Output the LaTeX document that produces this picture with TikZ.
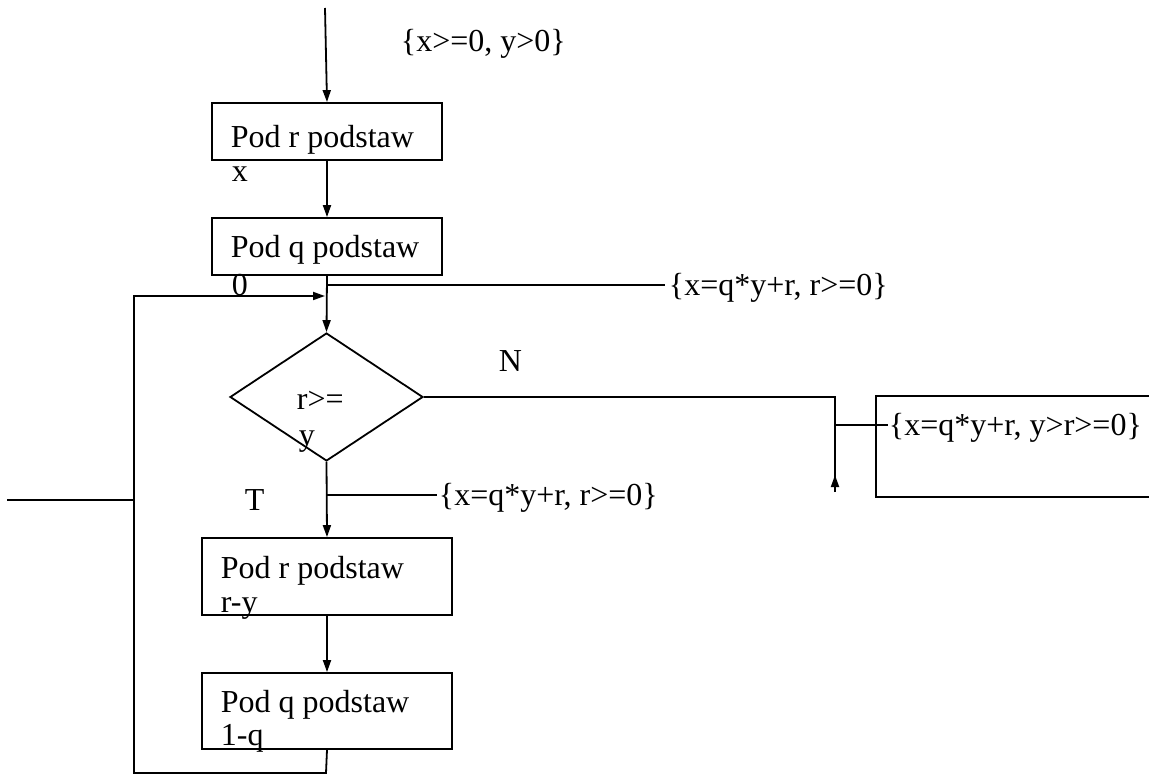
\documentclass[tikz,border=0pt]{standalone}
\usepackage{fontspec}
\setmainfont{Liberation Serif}
\usetikzlibrary{arrows.meta,shapes.geometric}
\begin{document}
\begin{tikzpicture}[x=1pt,y=-1pt,
  line width=1.8pt,
  every node/.style={font=\fontsize{32}{36}\selectfont, inner sep=0pt},
  box/.style={draw, rectangle, line width=1.8pt},
  txt/.style={anchor=base west},
  flow/.style={-{Triangle[length=12pt,width=8pt]}}]
\clip (0,0) rectangle (1149,775);

% process boxes
\node[box, minimum width=230pt, minimum height=57pt] (b1) at (327,131.5) {};
\node[box, minimum width=230pt, minimum height=57pt] (b2) at (327,246.5) {};
\node[draw, diamond, minimum width=193pt, minimum height=128pt, line width=1.8pt] (dec) at (326.5,397) {};
\node[box, minimum width=250pt, minimum height=77pt] (b3) at (327,576.5) {};
\node[box, minimum width=250pt, minimum height=76pt] (b4) at (327,711) {};
\node[box, minimum width=290pt, minimum height=101pt, anchor=north west] (out) at (875,395) {};

% texts
\node[txt] (pre) at (400,52) {\{x>=0, y>0\}};
\node[txt] (t1a) at (230,148) {Pod r podstaw};
\node[txt] (t1b) at (231,182) {x};
\node[txt] (t2a) at (230,258) {Pod q podstaw};
\node[txt] (t2b) at (231,296) {0};
\node[txt] (inv1) at (668,296) {\{x=q*y+r, r>=0\}};
\node[txt] (c1) at (296,410) {r>=};
\node[txt] (c2) at (298,446) {y};
\node[txt] (lN) at (498,372) {N};
\node[txt] (lT) at (244,510) {T};
\node[txt] (inv2) at (438,505) {\{x=q*y+r, r>=0\}};
\node[txt] (post) at (888,436) {\{x=q*y+r, y>r>=0\}};
\node[txt] (t3a) at (220,578) {Pod r podstaw};
\node[txt] (t3b) at (220,612) {r-y};
\node[txt] (t4a) at (220,712) {Pod q podstaw};
\node[txt] (t4b) at (220,745) {1-q};

% helper points
\coordinate (start) at (325,8);
\coordinate (join) at (325,296);
\coordinate (a1) at (327,285);
\coordinate (a2) at (665,285);
\coordinate (lb) at (134,773);
\coordinate (lt) at (134,296);
\coordinate (stub1) at (7,500);
\coordinate (stub2) at (134,500);
\coordinate (nr) at (835,397);
\coordinate (nb) at (835,492);
\coordinate (ntip) at (835,475);
\coordinate (nbr) at (835,425);
\coordinate (tb1) at (327,495);
\coordinate (tb2) at (437,495);
\coordinate (bb) at (326,773);

% connectors
\draw[flow] (start) -- (b1.north);
\draw[flow] (b1.south) -- (b2.north);
\draw[flow] (b2.south) -- (dec.north);
\draw (a1) -- (a2);
\draw[flow] (b4.south) -- (bb) -- (lb) -- (lt) -- (join);
\draw (stub1) -- (stub2);
\draw (dec.east) -- (nr) -- (nb);
\draw[flow] (nb) -- (ntip);
\draw (nbr) -- (post.base west |- nbr);
\draw[flow] (dec.south) -- (b3.north);
\draw (tb1) -- (tb2);
\draw[flow] (b3.south) -- (b4.north);
\end{tikzpicture}
\end{document}
